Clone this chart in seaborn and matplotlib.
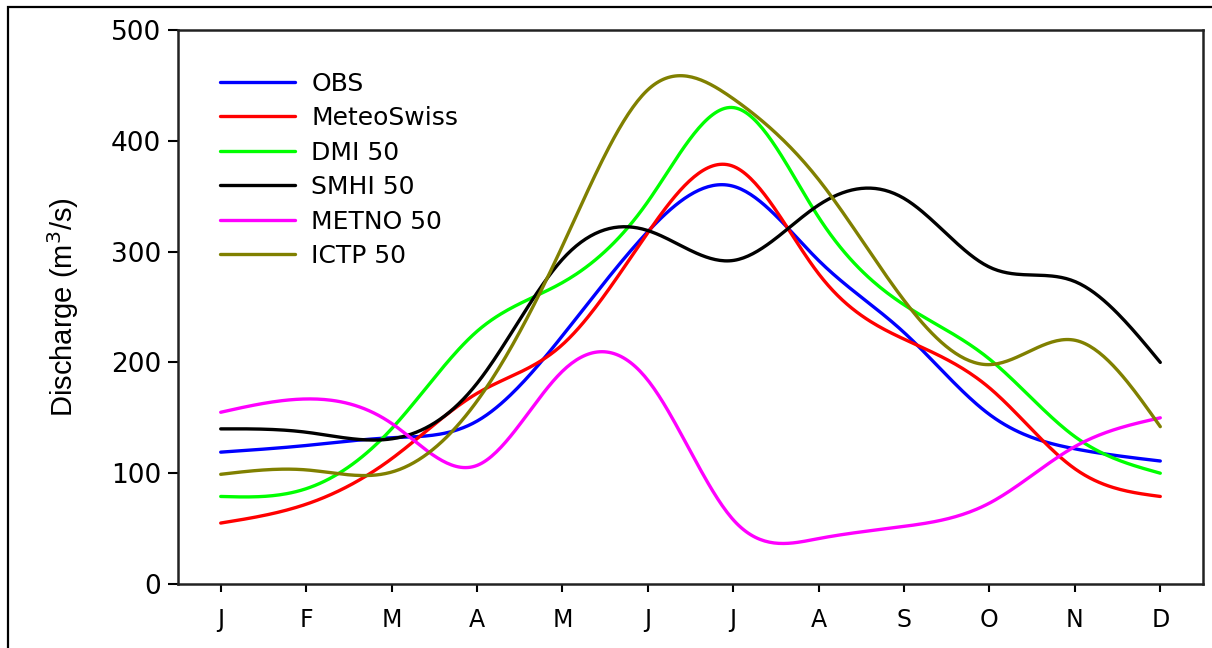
import numpy as np
import pandas as pd
import seaborn as sns
import matplotlib
matplotlib.use('Agg')
import matplotlib.pyplot as plt
from matplotlib.patches import Rectangle

# monthly mean discharge (m3/s)
months = ['J', 'F', 'M', 'A', 'M', 'J', 'J', 'A', 'S', 'O', 'N', 'D']
obs = [119, 125, 132, 147, 224, 318, 359, 292, 227, 153, 122, 111]
meteoswiss = [55, 72, 113, 172, 216, 317, 377, 280, 221, 177, 104, 79]
dmi50 = [79, 86, 140, 228, 272, 345, 430, 331, 252, 203, 133, 100]
smhi50 = [140, 137, 131, 181, 293, 319, 292, 342, 348, 286, 273, 200]
metno50 = [155, 167, 145, 107, 192, 184, 58, 41, 52, 73, 124, 150]
ictp50 = [99, 103, 101, 165, 305, 446, 438, 365, 256, 198, 220, 142]

series_names = ['OBS', 'MeteoSwiss', 'DMI 50', 'SMHI 50', 'METNO 50', 'ICTP 50']
series_values = [obs, meteoswiss, dmi50, smhi50, metno50, ictp50]
colors = ['#0000ff', '#ff0000', '#00ff00', '#000000', '#ff00ff', '#808000']


def smooth(y, n=400):
    # natural cubic spline through the monthly values (drawing only)
    y = np.asarray(y, dtype=float)
    k = len(y)
    A = np.zeros((k, k))
    b = np.zeros(k)
    A[0, 0] = A[-1, -1] = 1
    for i in range(1, k - 1):
        A[i, i - 1], A[i, i], A[i, i + 1] = 1, 4, 1
        b[i] = 6 * (y[i + 1] - 2 * y[i] + y[i - 1])
    m = np.linalg.solve(A, b)
    xs = np.linspace(0, k - 1, n)
    idx = np.clip(np.floor(xs).astype(int), 0, k - 2)
    t = xs - idx
    ys = ((1 - t) * y[idx] + t * y[idx + 1]
          + ((1 - t) ** 3 - (1 - t)) * m[idx] / 6
          + (t ** 3 - t) * m[idx + 1] / 6)
    return xs, ys


sns.set_style('ticks')
plt.rcParams['font.family'] = ['DejaVu Sans']
plt.rcParams['text.color'] = 'black'
plt.rcParams['axes.labelcolor'] = 'black'
plt.rcParams['xtick.color'] = 'black'
plt.rcParams['ytick.color'] = 'black'

fig = plt.figure(figsize=(12.12, 6.48), dpi=100)
ax = fig.add_axes([178 / 1212, 1 - 584 / 648, (1203 - 178) / 1212, (584 - 30) / 648])

for name, vals, c in zip(series_names, series_values, colors):
    xs, ys = smooth(vals)
    sns.lineplot(x=xs, y=ys, color=c, label=name, linewidth=2.4, ax=ax)

ax.set_xlim(-0.5, 11.5)
ax.set_ylim(0, 500)
ax.set_xticks(range(12))
ax.set_xticklabels(months)
ax.set_yticks(range(0, 501, 100))
ax.tick_params(axis='x', length=6, width=1.5, pad=11, labelsize=17)
ax.tick_params(axis='y', length=7, width=1.5, pad=5, labelsize=19)
for s in ax.spines.values():
    s.set_linewidth(1.8)
    s.set_color('#222222')
ax.set_xlabel('')
ax.set_ylabel('Discharge (m$^3$/s)', fontsize=21, family='Liberation Sans', labelpad=22)

ax.legend(loc='upper left', bbox_to_anchor=(0.041, 0.925), frameon=False,
          fontsize=18, handlelength=3.0, handletextpad=0.65, labelspacing=0.42,
          borderpad=0, borderaxespad=0)

# outer frame around the figure
fig.add_artist(Rectangle((8 / 1212, -0.05), 1.2, 1.05 - 7 / 648,
                         transform=fig.transFigure, fill=False,
                         edgecolor='black', linewidth=1.6, clip_on=False))

fig.savefig('out.png', dpi=100)
